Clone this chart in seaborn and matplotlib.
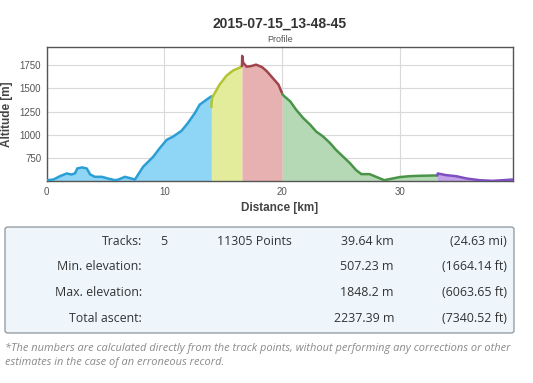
import matplotlib
matplotlib.use("Agg")
import matplotlib.pyplot as plt
from matplotlib.patches import FancyBboxPatch
import seaborn as sns
import pandas as pd

sns.set_theme(style="white")
plt.rcParams['font.family'] = ['Liberation Sans', 'DejaVu Sans']

title = "2015-07-15_13-48-45"
subtitle = "Profile"

# Track 1 (blue)
t1_km = [0.0, 0.57, 1.13, 1.7, 2.1, 2.4, 2.6, 3.0, 3.4, 3.7, 4.1, 4.7, 5.2, 5.8, 6.1,
         6.65, 7.2, 7.5, 8.2, 9.06, 9.6, 10.2, 10.75, 11.46, 12.0, 12.6, 13.0, 13.6, 14.0]
t1_m = [516, 523, 559, 588, 577, 588, 642, 653, 642, 577, 552, 552, 534, 516, 523,
        552, 534, 523, 660, 768, 858, 948, 984, 1045, 1128, 1236, 1325, 1380, 1415]
# Track 2 (yellow)
t2_km = [14.0, 14.05, 14.15, 14.7, 15.3, 15.85, 16.4, 16.6]
t2_m = [1300, 1395, 1420, 1541, 1638, 1692, 1721, 1739]
# Track 3 (red)
t3_km = [16.6, 16.62, 16.7, 17.0, 17.4, 17.8, 18.3, 18.7, 19.2, 19.7, 20.0]
t3_m = [1739, 1848, 1775, 1732, 1739, 1754, 1728, 1685, 1613, 1541, 1451]
# Track 4 (green)
t4_km = [20.03, 20.1, 20.7, 21.2, 21.8, 22.4, 22.9, 23.5, 24.1, 24.6, 25.2, 25.8, 26.3,
         26.75, 27.45, 28.0, 28.7, 29.4, 30.0, 30.85, 31.7, 33.2]
t4_m = [1440, 1426, 1361, 1272, 1182, 1110, 1038, 984, 912, 840, 768, 696, 624,
        581, 581, 552, 516, 534, 549, 559, 563, 567]
# Track 5 (purple)
t5_km = [33.2, 33.25, 33.96, 34.8, 35.7, 36.8, 37.9, 38.8, 39.64]
t5_m = [567, 588, 570, 559, 534, 516, 509, 516, 523]

tracks = [(t1_km, t1_m), (t2_km, t2_m), (t3_km, t3_m), (t4_km, t4_m), (t5_km, t5_m)]
line_colors = ['#2b9fd4', '#b2c434', '#a0444c', '#4a944a', '#7e4fc0']
fill_colors = ['#8fd5f6', '#e3ec9a', '#e8b1b1', '#b4d9b4', '#c2a2ea']

x_ticks = [0, 10, 20, 30]
y_ticks = [750, 1000, 1250, 1500, 1750]
y_min, y_max = 507.23, 1940
x_max = 39.64

table_rows = [
    ["Tracks:", "5", "11305 Points", "39.64 km", "(24.63 mi)"],
    ["Min. elevation:", "", "", "507.23 m", "(1664.14 ft)"],
    ["Max. elevation:", "", "", "1848.2 m", "(6063.65 ft)"],
    ["Total ascent:", "", "", "2237.39 m", "(7340.52 ft)"],
]
footnote = ("*The numbers are calculated directly from the track points, without performing any corrections or other\n"
            "estimates in the case of an erroneous record.")

W, H = 533, 383
fig = plt.figure(figsize=(W / 100, H / 100), dpi=100)
fig.patch.set_facecolor('white')
ax = fig.add_axes([46.7 / W, 1 - 181 / H, (513 - 46.7) / W, (181 - 47.3) / H])

for (xs, ys), lc, fc in zip(tracks, line_colors, fill_colors):
    df = pd.DataFrame({"km": xs, "m": ys})
    ax.fill_between(df["km"], df["m"], y_min, color=fc, lw=0, zorder=2)
    sns.lineplot(data=df, x="km", y="m", ax=ax, color=lc, lw=1.8, zorder=3,
                 sort=False, estimator=None)

ax.set_xlim(0, x_max)
ax.set_ylim(y_min, y_max)
ax.set_xticks(x_ticks)
ax.set_yticks(y_ticks)
ax.grid(True, color='#d9d9d9', lw=0.8, zorder=0)
ax.set_axisbelow(True)
ax.tick_params(length=0, labelsize=7, colors='#555555', pad=4)
for s in ax.spines.values():
    s.set_color('#555555')
    s.set_linewidth(1.0)
ax.set_xlabel("Distance [km]", fontsize=8.5, fontweight='bold', color='#444444', labelpad=4)
ax.set_ylabel("Altitude [m]", fontsize=8.5, fontweight='bold', color='#444444', labelpad=5)

fig.text(280 / W, 1 - 24 / H, title, ha='center', va='center', fontsize=10,
         fontweight='bold', color='#333333')
fig.text(280 / W, 1 - 40 / H, subtitle, ha='center', va='center', fontsize=6.5, color='#555555')

# Statistics box
box = FancyBboxPatch((5 / W, 1 - 333 / H), (514 - 5) / W, (333 - 227) / H,
                     boxstyle="round,pad=0,rounding_size=0.006", transform=fig.transFigure,
                     facecolor='#eef6fc', edgecolor='#8e9499', lw=0.9)
fig.patches.append(box)

row_y = [241.7, 266.7, 292.7, 319.0]
col_x = [141.7, 160.0, 217.0, 394.0, 507.0]
col_ha = ['right', 'left', 'left', 'right', 'right']
tfont = ['Open Sans', 'DejaVu Sans']
for ry, row in zip(row_y, table_rows):
    for cx, ha, txt in zip(col_x, col_ha, row):
        if txt:
            fig.text(cx / W, 1 - ry / H, txt, ha=ha, va='center', fontsize=8.9,
                     color='#333333', family=tfont)

fig.text(5 / W, 1 - 355.5 / H, footnote, ha='left', va='center', fontsize=7.9,
         color='#8a8a8a', style='italic', family=tfont, linespacing=1.3)

fig.savefig("out.png", dpi=100, facecolor='white')
